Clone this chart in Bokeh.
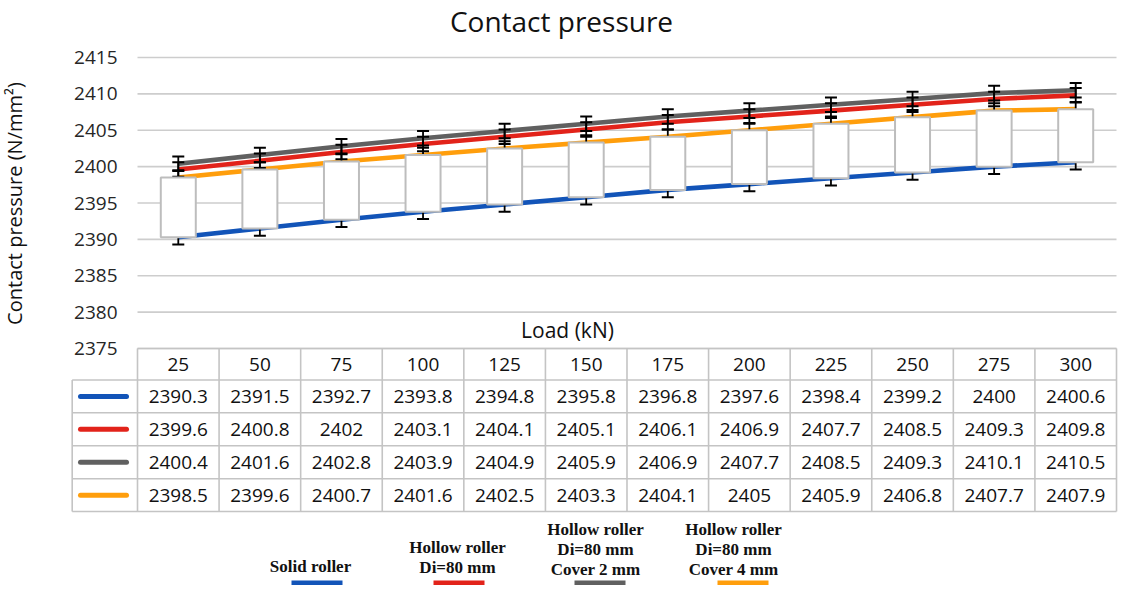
import math
from bokeh.plotting import figure
from bokeh.models import Range1d
from bokeh.core.properties import value
from bokeh.embed import file_html
from bokeh.resources import INLINE

# ---------------- data ----------------
loads = [25, 50, 75, 100, 125, 150, 175, 200, 225, 250, 275, 300]
solid_roller = [2390.3, 2391.5, 2392.7, 2393.8, 2394.8, 2395.8, 2396.8, 2397.6, 2398.4, 2399.2, 2400, 2400.6]
hollow_roller = [2399.6, 2400.8, 2402, 2403.1, 2404.1, 2405.1, 2406.1, 2406.9, 2407.7, 2408.5, 2409.3, 2409.8]
hollow_cover2 = [2400.4, 2401.6, 2402.8, 2403.9, 2404.9, 2405.9, 2406.9, 2407.7, 2408.5, 2409.3, 2410.1, 2410.5]
hollow_cover4 = [2398.5, 2399.6, 2400.7, 2401.6, 2402.5, 2403.3, 2404.1, 2405, 2405.9, 2406.8, 2407.7, 2407.9]
error_amount = 1.0
y_ticks = [2375, 2380, 2385, 2390, 2395, 2400, 2405, 2410, 2415]
series_names = [["Solid roller"],
                ["Hollow roller", "Di=80 mm"],
                ["Hollow roller", "Di=80 mm", "Cover 2 mm"],
                ["Hollow roller", "Di=80 mm", "Cover 4 mm"]]
series_colors = ["#1254B8", "#E2231A", "#606060", "#FF9E0C"]
series_values = [solid_roller, hollow_roller, hollow_cover2, hollow_cover4]

# ---------------- layout helpers (pixel -> data) ----------------
W, H = 1118, 585
PL, PR = 137.0, 1116.0
n = len(loads)
cw = (PR - PL) / n
PY_TOP, S = 57.0, 291.0 / 40.0   # 2415 at pixel 57, px per unit


def dx(px):
    return (px - PL) / cw


def dy(py):
    return y_ticks[-1] - (py - PY_TOP) / S


p = figure(width=W, height=H, output_backend="svg", toolbar_location=None,
           x_range=Range1d(dx(0), dx(W)), y_range=Range1d(dy(H), dy(0)),
           x_axis_location=None, y_axis_location=None, min_border=0)
p.grid.visible = False
p.outline_line_color = None
p.background_fill_color = "white"
p.border_fill_color = "white"

FONT = value("Open Sans")
xs = [i + 0.5 for i in range(n)]

# gridlines
p.segment(x0=[0] * len(y_ticks), x1=[n] * len(y_ticks), y0=y_ticks, y1=y_ticks,
          line_color="#CDCDCD", line_width=1.6)
# tick labels
p.text(x=[dx(117)] * len(y_ticks), y=y_ticks, text=[str(t) for t in y_ticks],
       text_align="right", text_baseline="middle", text_font=FONT,
       text_font_size="19px", text_color="#262626")

# series lines
for vals, col in zip(series_values, series_colors):
    p.line(xs, vals, line_color=col, line_width=4.6)

# error bars
cap = 6.0 / cw
for vals in series_values:
    lo = [v - error_amount for v in vals]
    hi = [v + error_amount for v in vals]
    p.segment(x0=xs, x1=xs, y0=lo, y1=hi, line_color="black", line_width=1.8)
    p.segment(x0=[x - cap for x in xs], x1=[x + cap for x in xs], y0=hi, y1=hi,
              line_color="black", line_width=2)
    p.segment(x0=[x - cap for x in xs], x1=[x + cap for x in xs], y0=lo, y1=lo,
              line_color="black", line_width=2)

# up/down bars (between first and last series)
p.vbar(x=xs, width=35.0 / cw, bottom=solid_roller, top=hollow_cover4,
       fill_color="white", line_color="#BDBDBD", line_width=2)

# title, axis titles
p.text(x=[dx(561)], y=[dy(20)], text=["Contact pressure"], text_align="center",
       text_baseline="alphabetic", text_font=FONT, text_font_size="28px", text_color="#111111")
p.text(x=[dx(14)], y=[dy(203)], text=["Contact pressure (N/mm²)"], angle=math.pi / 2,
       text_align="center", text_baseline="middle", text_font=FONT,
       text_font_size="20px", text_color="#111111")
p.text(x=[dx(567)], y=[dy(329)], text=["Load (kN)"], text_align="center",
       text_baseline="middle", text_font=FONT, text_font_size="21px", text_color="#111111")

# ---------------- data table ----------------
rows_b = [348.0, 379.5, 412.3, 445.3, 478.3, 511.0]
LEG_L = dx(71.7)
tcol = "#C4C4C4"
# header row lines
p.segment(x0=[0, 0], x1=[n, n], y0=[dy(rows_b[0]), dy(rows_b[1])], y1=[dy(rows_b[0]), dy(rows_b[1])],
          line_color=tcol, line_width=1.6)
# data rows horizontal lines
hy = [dy(r) for r in rows_b[2:]]
p.segment(x0=[LEG_L] * len(hy), x1=[n] * len(hy), y0=hy, y1=hy, line_color=tcol, line_width=1.6)
p.segment(x0=[LEG_L], x1=[0], y0=[dy(rows_b[1])], y1=[dy(rows_b[1])], line_color=tcol, line_width=1.6)
# vertical lines
vx = list(range(n + 1))
p.segment(x0=vx, x1=vx, y0=[dy(rows_b[0])] * len(vx), y1=[dy(rows_b[-1])] * len(vx),
          line_color=tcol, line_width=1.6)
p.segment(x0=[LEG_L], x1=[LEG_L], y0=[dy(rows_b[1])], y1=[dy(rows_b[-1])],
          line_color=tcol, line_width=1.6)

# header text
hc = dy((rows_b[0] + rows_b[1]) / 2)
p.text(x=xs, y=[hc] * n, text=[str(l) for l in loads], text_align="center",
       text_baseline="middle", text_font=FONT, text_font_size="19px", text_color="#111111")
# rows
for r, (vals, col) in enumerate(zip(series_values, series_colors)):
    cy = dy((rows_b[r + 1] + rows_b[r + 2]) / 2)
    p.text(x=xs, y=[cy] * n, text=[f"{v:g}" for v in vals], text_align="center",
           text_baseline="middle", text_font=FONT, text_font_size="19px", text_color="#111111")
    p.segment(x0=[dx(80)], x1=[dx(126)], y0=[cy], y1=[cy], line_color=col, line_width=5,
              line_cap="round")

# ---------------- bottom legend ----------------
leg_cx = [310, 457, 595, 733]
leg_lines_y = [[566], [547, 567], [529, 549, 569], [529, 549, 569]]
sw_l = [291, 433, 574, 717]
for names, cx, ly, sl, col in zip(series_names, leg_cx, leg_lines_y, sw_l, series_colors):
    p.text(x=[dx(cx)] * len(names), y=[dy(v) for v in ly], text=names, text_align="center",
           text_baseline="middle", text_font=value("Liberation Serif"), text_font_style="bold",
           text_font_size="17px", text_color="#111111")
    p.quad(left=[dx(sl)], right=[dx(sl + 51)], top=[dy(580)], bottom=[dy(592)],
           fill_color=col, line_color=None)

open("out.html", "w").write(file_html(p, INLINE))
